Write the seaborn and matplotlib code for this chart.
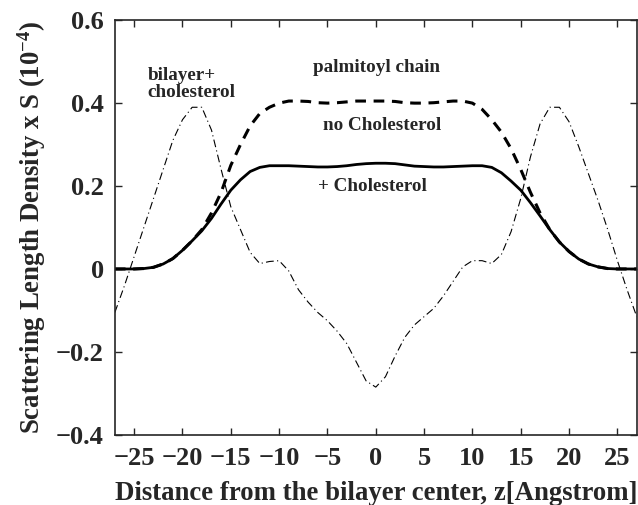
import matplotlib
matplotlib.use('Agg')
import matplotlib.pyplot as plt
import seaborn as sns
import pandas as pd
import numpy as np

z = list(range(-27, 28))

plus_chol = [
    0.0, 0.0, 0.0, 0.001, 0.004, 0.012, 0.025, 0.045, 0.068, 0.092,
    0.122, 0.157, 0.19, 0.215, 0.235, 0.245, 0.249, 0.249, 0.249, 0.248,
    0.247, 0.246, 0.246, 0.247, 0.249, 0.252, 0.254, 0.255, 0.255, 0.254,
    0.251, 0.248, 0.247, 0.246, 0.246, 0.247, 0.248, 0.249, 0.249, 0.245,
    0.232, 0.212, 0.19, 0.16, 0.128, 0.095, 0.065, 0.042, 0.024, 0.012,
    0.005, 0.001, 0.0, 0.0, 0.0,
]

no_chol = [
    0.0, 0.0, 0.0, 0.001, 0.004, 0.012, 0.025, 0.045, 0.068, 0.095,
    0.135, 0.185, 0.25, 0.30, 0.345, 0.375, 0.39, 0.40, 0.405, 0.405,
    0.404, 0.401, 0.40, 0.401, 0.403, 0.405, 0.405, 0.405, 0.405, 0.404,
    0.401, 0.40, 0.40, 0.401, 0.403, 0.405, 0.405, 0.40, 0.385, 0.36,
    0.33, 0.29, 0.24, 0.185, 0.135, 0.095, 0.065, 0.042, 0.024, 0.012,
    0.005, 0.001, 0.0, 0.0, 0.0,
]

bilayer_chol = [
    -0.105, -0.04, 0.03, 0.10, 0.17, 0.24, 0.31, 0.36, 0.39, 0.39,
    0.335, 0.24, 0.15, 0.095, 0.04, 0.013, 0.018, 0.02, -0.005, -0.05,
    -0.08, -0.105, -0.125, -0.15, -0.18, -0.225, -0.27, -0.285, -0.26, -0.21,
    -0.165, -0.135, -0.115, -0.095, -0.065, -0.03, 0.005, 0.02, 0.02, 0.013,
    0.035, 0.09, 0.17, 0.27, 0.35, 0.39, 0.39, 0.355, 0.295, 0.23,
    0.165, 0.095, 0.02, -0.05, -0.115,
]

df = pd.DataFrame({
    'z': z, 'plus': plus_chol, 'none': no_chol, 'bilayer': bilayer_chol,
})

sns.set_style('ticks')
plt.rcParams['font.family'] = ['Liberation Serif', 'DejaVu Serif']
plt.rcParams['font.weight'] = 'bold'
plt.rcParams['mathtext.fontset'] = 'custom'
plt.rcParams['mathtext.rm'] = 'Liberation Serif:bold'
plt.rcParams['mathtext.it'] = 'Liberation Serif:bold'
plt.rcParams['mathtext.bf'] = 'Liberation Serif:bold'

fig, ax = plt.subplots(figsize=(6.38, 5.05), dpi=100)
fig.subplots_adjust(left=0.180, right=0.998, bottom=0.139, top=0.960)

sns.lineplot(data=df, x='z', y='bilayer', ax=ax, color='black',
             linewidth=0.8, linestyle=(0, (7, 3, 1, 3)))
sns.lineplot(data=df, x='z', y='none', ax=ax, color='black',
             linewidth=2.2, linestyle=(0, (3.5, 2.5)))
sns.lineplot(data=df, x='z', y='plus', ax=ax, color='black',
             linewidth=2.0)

ax.set_xlim(-27, 27)
ax.set_ylim(-0.4, 0.6)
ax.set_xticks(range(-25, 30, 5))
ax.set_yticks([-0.4, -0.2, 0, 0.2, 0.4, 0.6])
ax.set_yticklabels(['\u22120.4', '\u22120.2', '0', '0.2', '0.4', '0.6'])
ax.set_xticklabels([f'{v}'.replace('-', '\u2212') for v in range(-25, 30, 5)])

ax.tick_params(direction='in', length=5, width=1, top=True, right=True,
               labelsize=19)
ax.tick_params(axis='x', pad=9)
ax.tick_params(axis='y', pad=8)
for lab in ax.get_xticklabels() + ax.get_yticklabels():
    lab.set_fontweight('bold')
for sp in ax.spines.values():
    sp.set_linewidth(1.2)

ax.set_xlabel('Distance from the bilayer center, z[Angstrom]',
              fontsize=19.3, fontweight='bold', labelpad=8)
ax.set_ylabel('Scattering Length Density x S (10$^{-4}$)',
              fontsize=19.3, fontweight='bold', labelpad=6)

ax.text(-23.6, 0.445, 'bilayer+\ncholesterol', fontsize=13.8,
        fontweight='bold', ha='left', va='center', linespacing=1.0)
ax.text(0.05, 0.487, 'palmitoyl chain', fontsize=13.8,
        fontweight='bold', ha='center', va='center')
ax.text(0.67, 0.347, 'no Cholesterol', fontsize=13.8,
        fontweight='bold', ha='center', va='center')
ax.text(-0.36, 0.198, '+ Cholesterol', fontsize=13.8,
        fontweight='bold', ha='center', va='center')

fig.savefig('out.png', dpi=100)
